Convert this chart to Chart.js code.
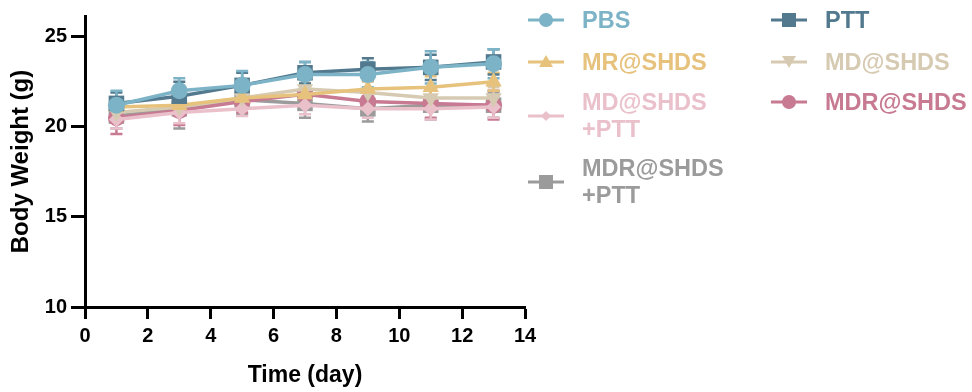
<!DOCTYPE html>
<html>
<head>
<meta charset="utf-8">
<script src="https://cdn.jsdelivr.net/npm/chart.js@4"></script>
<style>
  body { margin: 0; background: #fff; width: 972px; height: 392px; overflow: hidden; position: relative; }
  #wrap { position: absolute; left: 0; top: 0; width: 545px; height: 392px; }
  .item { position: absolute; display: flex; align-items: center; font-family: "Liberation Sans", Arial, sans-serif; font-weight: bold; font-size: 23.5px; line-height: 27px; }
  .item svg { margin-right: 18px; flex: none; }
</style>
</head>
<body>
<div id="wrap"><canvas id="weightChart"></canvas></div>
<div id="legend"></div>
<script>
// data
const days = [1, 3, 5, 7, 9, 11, 13];
const seriesNames = ['PBS', 'PTT', 'MR@SHDS', 'MD@SHDS', 'MD@SHDS\n+PTT', 'MDR@SHDS', 'MDR@SHDS\n+PTT'];

const pbs      = [21.2, 22.0, 22.3, 22.9, 22.9, 23.3, 23.5];
const ptt      = [21.3, 21.7, 22.3, 23.0, 23.2, 23.3, 23.6];
const mrShds   = [21.1, 21.2, 21.6, 21.8, 22.1, 22.2, 22.5];
const mdShds   = [20.8, 21.1, 21.6, 22.1, 21.9, 21.6, 21.6];
const mdPtt    = [20.4, 20.8, 21.0, 21.2, 21.0, 21.0, 21.1];
const mdrShds  = [20.5, 20.9, 21.4, 21.8, 21.4, 21.3, 21.2];
const mdrPtt   = [20.6, 21.0, 21.5, 21.3, 21.0, 21.2, 21.2];

const pbsErr     = [0.8, 0.7, 0.8, 0.7, 0.7, 0.9, 0.8];
const pttErr     = [0.6, 0.8, 0.7, 0.6, 0.6, 0.7, 0.7];
const mrShdsErr  = [0.5, 0.5, 0.6, 0.6, 0.5, 0.6, 0.5];
const mdShdsErr  = [0.5, 0.5, 0.5, 0.5, 0.6, 0.6, 0.6];
const mdPttErr   = [0.5, 0.6, 0.4, 0.5, 0.5, 0.6, 0.6];
const mdrShdsErr = [0.9, 0.8, 0.6, 0.6, 0.7, 0.8, 0.8];
const mdrPttErr  = [0.7, 1.1, 0.8, 0.8, 0.7, 0.8, 0.7];

const yTicks = [10, 15, 20, 25];

const seriesValues = [pbs, ptt, mrShds, mdShds, mdPtt, mdrShds, mdrPtt];
const seriesErrors = [pbsErr, pttErr, mrShdsErr, mdShdsErr, mdPttErr, mdrShdsErr, mdrPttErr];
const colors = ['#7db3c6', '#52798e', '#e6c27c', '#d7cab2', '#eac0cb', '#c77a91', '#9b9b9b'];
const shapes = ['circle', 'rect', 'triangle', 'triangle', 'rectRot', 'circle', 'rect'];
const rotations = [0, 0, 0, 180, 0, 0, 0];
const radii = [8.5, 11, 9.5, 9.5, 7.5, 8.5, 11];

const datasets = seriesNames.map((name, i) => ({
    label: name,
    data: days.map((d, j) => ({ x: d, y: seriesValues[i][j] })),
    errors: seriesErrors[i],
    borderColor: colors[i],
    backgroundColor: colors[i],
    borderWidth: 3.5,
    pointStyle: shapes[i],
    pointRotation: rotations[i],
    pointRadius: radii[i],
    pointBorderWidth: 0,
    tension: 0
}));

// vertical SD bars with caps
const errorBars = {
    id: 'errorBars',
    beforeDatasetsDraw(chart) {
        const ctx = chart.ctx;
        const xs = chart.scales.x, ys = chart.scales.y;
        ctx.save();
        for (let i = chart.data.datasets.length - 1; i >= 0; i--) {
            const ds = chart.data.datasets[i];
            ctx.strokeStyle = ds.borderColor;
            ctx.lineWidth = 2.5;
            ds.data.forEach((p, j) => {
                const x = xs.getPixelForValue(p.x);
                const top = ys.getPixelForValue(p.y + ds.errors[j]);
                const bot = ys.getPixelForValue(p.y - ds.errors[j]);
                ctx.beginPath();
                ctx.moveTo(x, top); ctx.lineTo(x, bot);
                ctx.moveTo(x - 6, top); ctx.lineTo(x + 6, top);
                ctx.moveTo(x - 6, bot); ctx.lineTo(x + 6, bot);
                ctx.stroke();
            });
        }
        ctx.restore();
    }
};

const tickFont = { family: '"Liberation Sans", Arial, sans-serif', size: 20, weight: 'bold' };
const titleFont = { family: '"Liberation Sans", Arial, sans-serif', size: 23, weight: 'bold' };

new Chart(document.getElementById('weightChart'), {
    type: 'line',
    data: { datasets: datasets },
    plugins: [errorBars],
    options: {
        responsive: true,
        maintainAspectRatio: false,
        animation: false,
        layout: { padding: { top: 12, right: 20, bottom: 0, left: 0 } },
        plugins: { legend: { display: false }, tooltip: { enabled: false } },
        scales: {
            x: {
                type: 'linear',
                min: 0,
                max: 14,
                afterFit: s => { s.height = 85; },
                ticks: { stepSize: 2, color: '#000', font: tickFont, padding: 5 },
                grid: { drawOnChartArea: false, tickLength: 12, tickWidth: 3, tickColor: '#000' },
                border: { width: 3, color: '#000' },
                title: { display: true, text: 'Time (day)', color: '#000', font: titleFont, padding: { bottom: 3 } }
            },
            y: {
                min: 10,
                max: 26.15,
                afterFit: s => { s.width = 85; },
                afterBuildTicks: s => { s.ticks = yTicks.map(v => ({ value: v })); },
                ticks: { color: '#000', font: tickFont, padding: 4 },
                grid: { drawOnChartArea: false, tickLength: 14, tickWidth: 3, tickColor: '#000' },
                border: { width: 3, color: '#000' },
                title: { display: true, text: 'Body Weight (g)', color: '#000', font: { ...titleFont, size: 24 }, padding: { top: 7 } }
            }
        }
    }
});

// legend in two columns, as in the figure
const legendPos = [[528, 20], [771, 20], [528, 62], [771, 62], [528, 116], [771, 102], [528, 182]];
function markerSvg(i) {
    const c = colors[i];
    let shape = '';
    if (shapes[i] === 'circle') shape = `<circle cx="18" cy="10" r="7" fill="${c}"/>`;
    else if (shapes[i] === 'rect') shape = `<rect x="11" y="3" width="14" height="14" fill="${c}"/>`;
    else if (shapes[i] === 'rectRot') shape = `<polygon points="18,5 23,10 18,15 13,10" fill="${c}"/>`;
    else if (rotations[i] === 180) shape = `<polygon points="11,4 25,4 18,16" fill="${c}"/>`;
    else shape = `<polygon points="18,3 25,15 11,15" fill="${c}"/>`;
    return `<svg width="36" height="20"><line x1="0" y1="10" x2="36" y2="10" stroke="${c}" stroke-width="3"/>${shape}</svg>`;
}
const legend = document.getElementById('legend');
seriesNames.forEach((name, i) => {
    const lines = name.split('\n');
    const div = document.createElement('div');
    div.className = 'item';
    div.style.left = legendPos[i][0] + 'px';
    div.style.top = (legendPos[i][1] - lines.length * 27 / 2) + 'px';
    div.style.color = colors[i];
    div.innerHTML = markerSvg(i) + '<span>' + lines.join('<br>') + '</span>';
    legend.appendChild(div);
});
</script>
</body>
</html>
